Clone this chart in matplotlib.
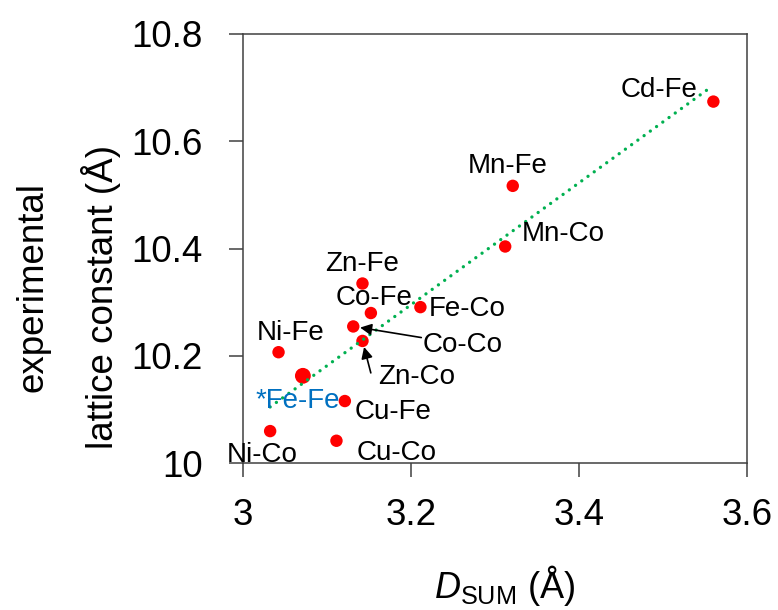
import matplotlib
matplotlib.use("Agg")
import matplotlib.pyplot as plt

plt.rcParams['font.family'] = ['Liberation Sans', 'DejaVu Sans']
plt.rcParams['mathtext.fontset'] = 'custom'
plt.rcParams['mathtext.rm'] = 'Liberation Sans'
plt.rcParams['mathtext.it'] = 'Liberation Sans:italic'

# donnees
pairs = ['Cd-Fe', 'Mn-Fe', 'Mn-Co', 'Zn-Fe', 'Fe-Co', 'Co-Fe', 'Co-Co',
         'Zn-Co', 'Ni-Fe', '*Fe-Fe', 'Cu-Fe', 'Ni-Co', 'Cu-Co']
d_sum = [3.560, 3.321, 3.312, 3.142, 3.211, 3.152, 3.131,
         3.142, 3.042, 3.071, 3.121, 3.032, 3.111]
lattice = [10.674, 10.517, 10.404, 10.335, 10.291, 10.280, 10.255,
           10.228, 10.207, 10.163, 10.116, 10.060, 10.042]

# droite de tendance (extremites lues)
trend_x = [3.032, 3.558]
trend_y = [10.105, 10.702]

x_ticks = [3, 3.2, 3.4, 3.6]
y_ticks = [10, 10.2, 10.4, 10.6, 10.8]
x_ticklabels = ['3', '3.2', '3.4', '3.6']
y_ticklabels = ['10', '10.2', '10.4', '10.6', '10.8']

# decalage des etiquettes (points) par rapport au point
label_off = {'Cd-Fe': (-39, 8), 'Mn-Fe': (-4, 14), 'Mn-Co': (42, 9),
             'Zn-Fe': (0, 14), 'Fe-Co': (34, -1), 'Co-Fe': (2, 11),
             'Co-Co': (79, -13), 'Zn-Co': (39, -26), 'Ni-Fe': (9, 14),
             '*Fe-Fe': (-4, -18), 'Cu-Fe': (35, -8), 'Ni-Co': (-6, -17),
             'Cu-Co': (43, -9)}
# queue des fleches (points) et recul de la pointe
arrow_tail = {'Co-Co': (49, -8), 'Zn-Co': (6, -23)}
arrow_shrink = {'Co-Co': 5, 'Zn-Co': 4.5}

fig = plt.figure(figsize=(7.78, 6.1), dpi=100)
ax = fig.add_axes([0.3127, 0.2405, 0.6474, 0.7038])

sizes = [130 if p == '*Fe-Fe' else 80 for p in pairs]
ax.scatter(d_sum, lattice, s=sizes, color='#ff0000', edgecolors='none', zorder=2)
ax.plot(trend_x, trend_y, color='#00b050', lw=2.4, linestyle=(0, (0.01, 2.3)),
        dash_capstyle='round', zorder=3)

for p, x, y in zip(pairs, d_sum, lattice):
    col = '#0070c0' if p == '*Fe-Fe' else 'black'
    ax.annotate(p, (x, y), xytext=label_off[p], textcoords='offset points',
                ha='center', va='center', fontsize=20, color=col, zorder=4)
    if p in arrow_tail:
        ax.annotate('', (x, y), xytext=arrow_tail[p], textcoords='offset points',
                    arrowprops=dict(arrowstyle='-|>', color='black', lw=1.2,
                                    mutation_scale=17, shrinkA=0,
                                    shrinkB=arrow_shrink[p]), zorder=5)

ax.set_xlim(3, 3.6)
ax.set_ylim(10, 10.8)
ax.set_xticks(x_ticks)
ax.set_xticklabels(x_ticklabels)
ax.set_yticks(y_ticks)
ax.set_yticklabels(y_ticklabels)
ax.tick_params(direction='out', length=10, width=1.1, color='#404040',
               labelsize=26.5, top=False, right=False)
ax.tick_params(axis='y', pad=19)
ax.tick_params(axis='x', pad=15)
for s in ax.spines.values():
    s.set_color('#404040')
    s.set_linewidth(1.1)

fig.text(505 / 778, 1 - 585 / 610, r'$\mathit{D}_{\mathrm{SUM}}$ (Å)',
         ha='center', va='center', fontsize=26)
fig.text(33 / 778, 1 - 287 / 610, 'experimental', rotation=90,
         ha='center', va='center', fontsize=26.5)
fig.text(101 / 778, 1 - 297 / 610, 'lattice constant (Å)', rotation=90,
         ha='center', va='center', fontsize=26.5)

fig.savefig('out.png', dpi=100)
